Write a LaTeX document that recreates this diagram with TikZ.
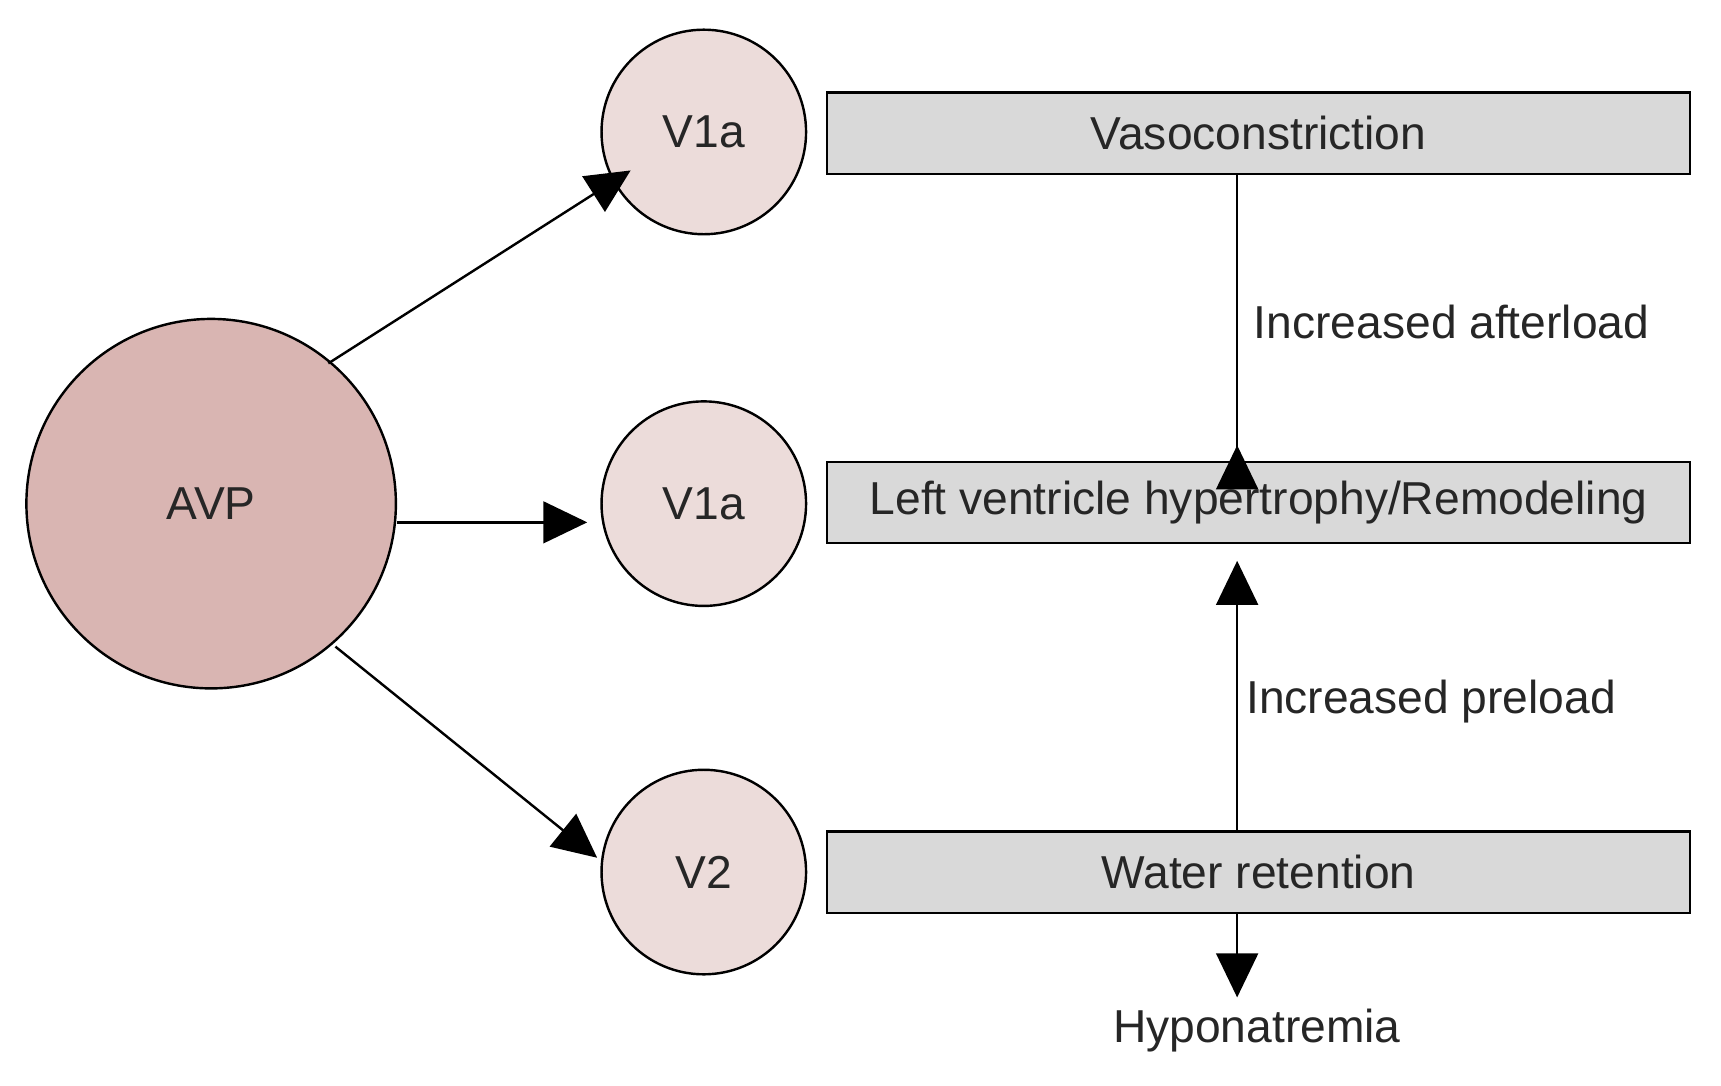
\documentclass[tikz,border=0pt]{standalone}
\usepackage{fontspec}
\setmainfont{Liberation Sans}
\usetikzlibrary{arrows.meta}
\definecolor{avpc}{HTML}{D9B5B2}
\definecolor{recc}{HTML}{ECDCDA}
\definecolor{boxc}{HTML}{D9D9D9}
\begin{document}
\begin{tikzpicture}[x=1pt,y=-1pt,
  every node/.style={font=\fontsize{42}{50}\selectfont, text=black!85},
  avp/.style={circle,draw,line width=2.2pt,fill=avpc,minimum size=336pt,inner sep=0},
  rec/.style={circle,draw,line width=2.2pt,fill=recc,minimum size=186pt,inner sep=0},
  box/.style={rectangle,draw,line width=2.2pt,fill=boxc,minimum width=785pt,minimum height=74pt,inner sep=0},
  arr/.style={line width=2.2pt,-{Triangle[length=40pt,width=38pt]}},
  lbl/.style={anchor=west,inner sep=0}]
\useasboundingbox (0,0) rectangle (1565,987);
\node[avp] (avp) at (192,458) {AVP};
\node[rec] (r1) at (640,120) {V1a};
\node[rec] (r2) at (640,458) {V1a};
\node[rec] (r3) at (640,793) {V2};
\node[box] (b1) at (1144.5,121) {Vasoconstriction};
\node[box] (b2) at (1144.5,457) {Left ventricle hypertrophy/Remodeling};
\node[box] (b3) at (1144.5,793) {Water retention};
\node[inner sep=0] (hypo) at (1143,937) {Hyponatremia};
\coordinate (h) at (1125,907);
\draw[arr] (avp.north east) ++(-13,-8) coordinate (s1) -- (r1.south west|-0,155) ;
\draw[arr] (avp.east|-0,475) -- (534,475);
\draw[arr] (305,588) -- (543,780);
\draw[arr] (b1.south-|1125,0) -- (b2.north-|1125,0) ++(0,-14);
\draw[arr] (b3.north-|1125,0) -- (1125,510);
\draw[arr] (b3.south-|1125,0) -- (h);
\node[lbl] (l1) at (1140,293) {Increased afterload};
\node[lbl] (l2) at (1133,638) {Increased preload};
\end{tikzpicture}
\end{document}
